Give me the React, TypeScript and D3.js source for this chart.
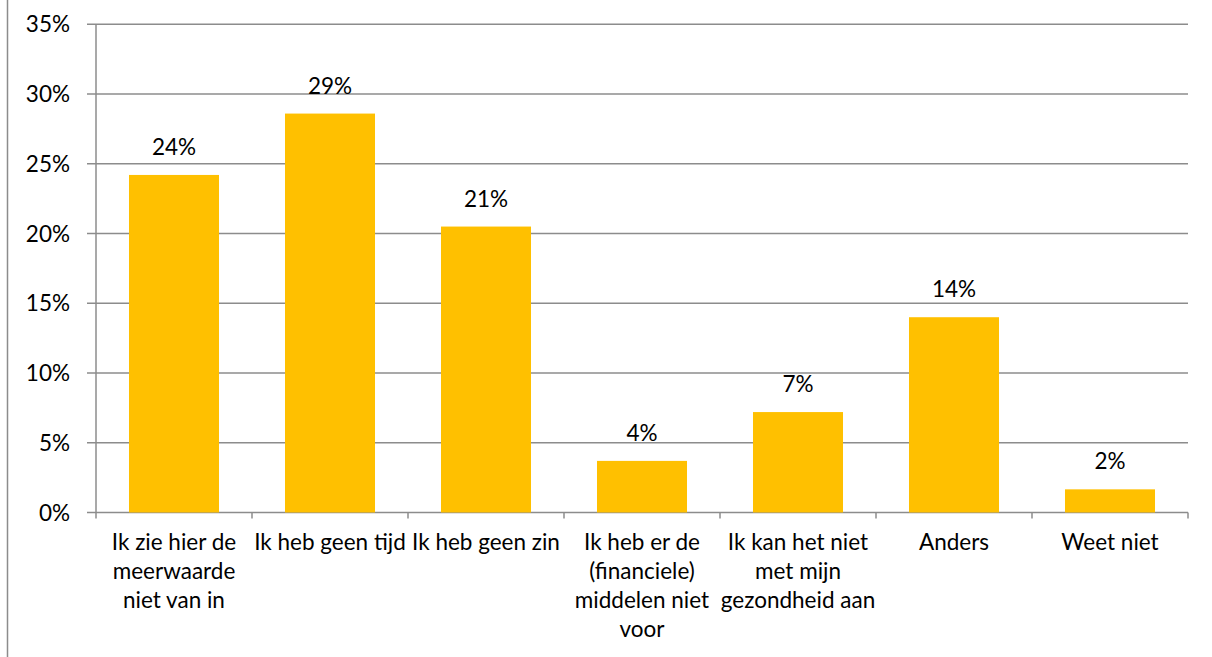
import React from "react";
import * as d3 from "d3";

const categories: string[][] = [
  ["Ik zie hier de", "meerwaarde", "niet van in"],
  ["Ik heb geen tijd"],
  ["Ik heb geen zin"],
  ["Ik heb er de", "(financiele)", "middelen niet", "voor"],
  ["Ik kan het niet", "met mijn", "gezondheid aan"],
  ["Anders"],
  ["Weet niet"],
];
const values: number[] = [24.2, 28.6, 20.5, 3.7, 7.2, 14.0, 1.66];
const labels: string[] = ["24%", "29%", "21%", "4%", "7%", "14%", "2%"];
const yTicks: number[] = [0, 5, 10, 15, 20, 25, 30, 35];

const W = 1212;
const H = 657;
const left = 96;
const right = 1188;
const top = 24.3;
const bottom = 512.5;
const FONT = "Lato, 'Open Sans', sans-serif";
const FS = 22.5;
const GRID = "#8c8c8c";

export default function App() {
  const x = d3
    .scaleBand<number>()
    .domain(values.map((_, i) => i))
    .range([left, right])
    .padding(0);
  const y = d3.scaleLinear().domain([0, 35]).range([bottom, top]);
  const bw = x.bandwidth() * 0.577;

  return (
    <svg
      width={W}
      height={H}
      style={{ position: "fixed", left: 0, top: 0, background: "#fff" }}
      fontFamily={FONT}
    >
      <rect x={0} y={0} width={W} height={H} fill="#fff" />
      <line x1={7.5} x2={7.5} y1={0} y2={H} stroke={GRID} strokeWidth={1.5} />
      {yTicks.map((t) => (
        <g key={t}>
          <line
            x1={left - 9}
            x2={right}
            y1={y(t)}
            y2={y(t)}
            stroke={GRID}
            strokeWidth={1.5}
          />
          <text
            x={70}
            y={y(t)}
            dy="0.36em"
            textAnchor="end"
            fontSize={FS}
            fill="#000"
          >
            {t}%
          </text>
        </g>
      ))}
      <line x1={left} x2={left} y1={top} y2={bottom + 6} stroke={GRID} strokeWidth={1.5} />
      {values.map((_, i) => (
        <line
          key={"t" + i}
          x1={(x(i) as number) + x.bandwidth()}
          x2={(x(i) as number) + x.bandwidth()}
          y1={bottom}
          y2={bottom + 6}
          stroke={GRID}
          strokeWidth={1.5}
        />
      ))}
      {values.map((v, i) => {
        const cx = (x(i) as number) + x.bandwidth() / 2;
        return (
          <g key={"b" + i}>
            <rect
              x={cx - bw / 2}
              y={y(v)}
              width={bw}
              height={bottom - y(v)}
              fill="#FFC000"
            />
            <text
              x={cx}
              y={y(v) - 20}
              textAnchor="middle"
              fontSize={FS}
              fill="#000"
            >
              {labels[i]}
            </text>
            {categories[i].map((line, j) => (
              <text
                key={j}
                x={cx}
                y={550 + j * 29}
                textAnchor="middle"
                fontSize={FS}
                fill="#000"
              >
                {line}
              </text>
            ))}
          </g>
        );
      })}
    </svg>
  );
}
